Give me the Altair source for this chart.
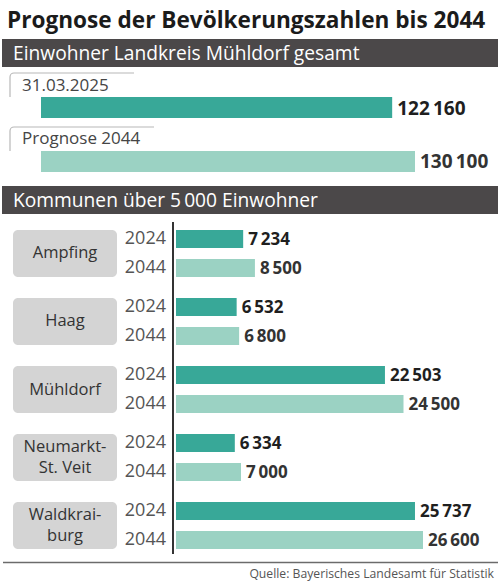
import altair as alt
import pandas as pd

# ---------------- data ----------------
total_labels = ["31.03.2025", "Prognose 2044"]
total_values = [122160, 130100]

communes = ["Ampfing", "Haag", "Mühldorf", "Neumarkt-St. Veit", "Waldkraiburg"]
name_line1 = ["Ampfing", "Haag", "Mühldorf", "Neumarkt-", "Waldkrai-"]
name_line2 = ["", "", "", "St. Veit", "burg"]
years = ["2024", "2044"]
values_2024 = [7234, 6532, 22503, 6334, 25737]
values_2044 = [8500, 6800, 24500, 7000, 26600]

title_text = "Prognose der Bevölkerungszahlen bis 2044"
header1 = "Einwohner Landkreis Mühldorf gesamt"
header2 = "Kommunen über 5\u2009000 Einwohner"
source_text = "Quelle: Bayerisches Landesamt für Statistik"


def fmt(v):
    return f"{v:,}".replace(",", "\u2009")


top_df = pd.DataFrame({"label": total_labels, "value": total_values,
                       "text": [fmt(v) for v in total_values]})

rows = []
for c, v1, v2 in zip(communes, values_2024, values_2044):
    rows.append({"commune": c, "year": years[0], "value": v1, "text": fmt(v1)})
    rows.append({"commune": c, "year": years[1], "value": v2, "text": fmt(v2)})
bot_df = pd.DataFrame(rows)
com_df = pd.DataFrame({"commune": communes, "l1": name_line1, "l2": name_line2})
one = pd.DataFrame({"a": [0]})

# ---------------- styles ----------------
FONT = "Open Sans"
DARK = "#38a898"
LIGHT = "#9bd2c3"
HEAD = "#4b4849"

xs_top = alt.Scale(domain=[0, 130100], range=[41, 415])
ys_top = alt.Scale(type="band", domain=total_labels, range=[97, 172],
                   paddingInner=0.611, paddingOuter=0)
xs_bot = alt.Scale(domain=[0, 26600], range=[176, 423])
ys_bot = alt.Scale(type="band", domain=communes, range=[230, 549],
                   paddingInner=0.309, paddingOuter=0)
yo_bot = alt.Scale(type="band", domain=years, paddingInner=0.38, paddingOuter=0)

layers = []

# title
layers.append(alt.Chart(one).mark_text(
    text=title_text, align="left", baseline="middle", font=FONT,
    fontSize=22.6, fontWeight="bold", color="#1b1b1b"
).encode(x=alt.value(7), y=alt.value(21)))

# header bars
for (y1, y2, txt) in [(39, 67, header1), (186, 214, header2)]:
    layers.append(alt.Chart(one).mark_rect(color=HEAD).encode(
        x=alt.value(2), x2=alt.value(498), y=alt.value(y1), y2=alt.value(y2)))
    layers.append(alt.Chart(one).mark_text(
        text=txt, align="left", baseline="middle", font=FONT, fontSize=19.2,
        color="white").encode(x=alt.value(13), y=alt.value((y1 + y2) / 2 + 0.5)))

# label box outlines (top section)
BOX = "#b8b8b8"
for top, right in [(73, 134), (127, 154)]:
    layers.append(alt.Chart(one).mark_rule(color=BOX, strokeWidth=1.2).encode(
        x=alt.value(14), x2=alt.value(right), y=alt.value(top)))
    layers.append(alt.Chart(one).mark_rule(color=BOX, strokeWidth=1.2).encode(
        x=alt.value(10), y=alt.value(top + 4), y2=alt.value(top + 24)))
    layers.append(alt.Chart(one).mark_arc(
        radius=4.6, radius2=3.4, theta=4.712, theta2=6.2832, color=BOX
    ).encode(x=alt.value(14), y=alt.value(top + 4)))

# top bars
top_base = alt.Chart(top_df)
layers.append(top_base.mark_bar().encode(
    x=alt.X("value:Q", scale=xs_top, axis=None),
    y=alt.Y("label:N", scale=ys_top, axis=None),
    color=alt.Color("label:N", scale=alt.Scale(domain=total_labels, range=[DARK, LIGHT]),
                    legend=None)))
layers.append(top_base.mark_text(
    align="left", baseline="middle", dx=5, dy=1, font=FONT, fontSize=19,
    fontWeight="bold").encode(
    x=alt.X("value:Q", scale=xs_top, axis=None),
    y=alt.Y("label:N", scale=ys_top, axis=None),
    text="text:N",
    color=alt.condition(alt.datum.label == total_labels[0],
                        alt.value("#1f1f1f"), alt.value("#333333"))))
layers.append(top_base.mark_text(
    align="left", baseline="middle", dy=-22, font=FONT, fontSize=17,
    color="#454545").encode(
    x=alt.value(22),
    y=alt.Y("label:N", scale=ys_top, axis=None),
    text="label:N"))

# commune boxes and names
com_base = alt.Chart(com_df)
layers.append(com_base.mark_rect(color="#d4d4d4", cornerRadius=5).encode(
    x=alt.value(13), x2=alt.value(117),
    y=alt.Y("commune:N", scale=ys_bot, axis=None)))
name_style = dict(align="center", baseline="middle", font=FONT, fontSize=16.5,
                  color="#333333")
layers.append(com_base.transform_filter(alt.datum.l2 == "").mark_text(
    **name_style).encode(
    x=alt.value(65), y=alt.Y("commune:N", scale=ys_bot, axis=None), text="l1:N"))
layers.append(com_base.transform_filter(alt.datum.l2 != "").mark_text(
    dy=-10.5, **name_style).encode(
    x=alt.value(65), y=alt.Y("commune:N", scale=ys_bot, axis=None), text="l1:N"))
layers.append(com_base.transform_filter(alt.datum.l2 != "").mark_text(
    dy=10.5, **name_style).encode(
    x=alt.value(65), y=alt.Y("commune:N", scale=ys_bot, axis=None), text="l2:N"))

# bottom bars
bot_base = alt.Chart(bot_df)
layers.append(bot_base.mark_bar().encode(
    x=alt.X("value:Q", scale=xs_bot, axis=None),
    y=alt.Y("commune:N", scale=ys_bot, axis=None),
    yOffset=alt.YOffset("year:N", scale=yo_bot),
    color=alt.Color("year:N", scale=alt.Scale(domain=years, range=[DARK, LIGHT]),
                    legend=None)))
layers.append(bot_base.mark_text(
    align="right", baseline="middle", font=FONT, fontSize=18,
    color="#555555").encode(
    x=alt.value(166),
    y=alt.Y("commune:N", scale=ys_bot, axis=None),
    yOffset=alt.YOffset("year:N", scale=yo_bot),
    text="year:N"))
layers.append(bot_base.mark_text(
    align="left", baseline="middle", dx=5, dy=1, font=FONT, fontSize=17,
    fontWeight="bold").encode(
    x=alt.X("value:Q", scale=xs_bot, axis=None),
    y=alt.Y("commune:N", scale=ys_bot, axis=None),
    yOffset=alt.YOffset("year:N", scale=yo_bot),
    text="text:N",
    color=alt.condition(alt.datum.year == years[0],
                        alt.value("#1f1f1f"), alt.value("#333333"))))

# axis line, bottom rule, source
layers.append(alt.Chart(one).mark_rule(color="#333333", strokeWidth=2).encode(
    x=alt.value(173), y=alt.value(222), y2=alt.value(554)))
layers.append(alt.Chart(one).mark_rule(color="#6b6b6b", strokeWidth=1.5).encode(
    x=alt.value(3), x2=alt.value(498), y=alt.value(562.5)))
layers.append(alt.Chart(one).mark_text(
    text=source_text, align="right", baseline="middle", font=FONT, fontSize=12.2,
    color="#555555").encode(x=alt.value(494), y=alt.value(574)))

chart = alt.layer(*layers).resolve_scale(
    x="independent", y="independent", color="independent", yOffset="independent"
).properties(
    width=500, height=584, padding=0, autosize=alt.AutoSizeParams(type="none"),
    background="white"
).configure_view(stroke=None)

chart.save("out.html", embed_options={"renderer": "svg", "actions": False})
